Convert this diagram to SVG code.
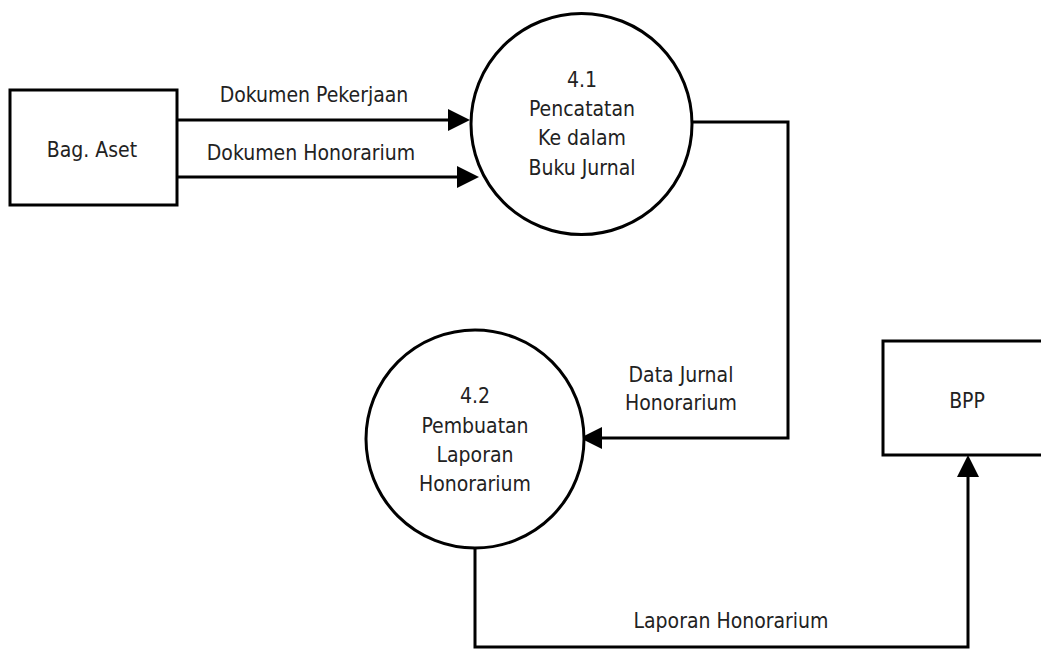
<svg xmlns="http://www.w3.org/2000/svg" width="1041" height="650" viewBox="0 0 1041 650">
  <style>
    .box { fill: #ffffff; stroke: #000000; stroke-width: 3; }
    .proc { fill: #ffffff; stroke: #000000; stroke-width: 3; }
    .flow { fill: none; stroke: #000000; stroke-width: 3; }
    .lbl { font-family: "DejaVu Sans Condensed", "DejaVu Sans", Verdana, sans-serif; font-stretch: condensed; font-size: 21px; fill: #222222; text-anchor: middle; }
  </style>
  <defs>
    <marker id="arrow" viewBox="0 -11 22 22" markerUnits="userSpaceOnUse" markerWidth="22" markerHeight="22" refX="0" refY="0" orient="auto">
      <path d="M0,-11 L22,0 L0,11 z" fill="#000000"/>
    </marker>
  </defs>
  <rect width="1041" height="650" fill="#ffffff"/>

  <!-- data flows -->
  <g id="connectors">
    <path class="flow" d="M177,120 H448" marker-end="url(#arrow)"/>
    <path class="flow" d="M177,177 H457" marker-end="url(#arrow)"/>
    <path class="flow" d="M692,122 H788 V438 H602" marker-end="url(#arrow)"/>
    <path class="flow" d="M475,549 V647 H968 V477" marker-end="url(#arrow)"/>
    <text class="lbl" x="314" y="102">Dokumen Pekerjaan</text>
    <text class="lbl" x="311" y="160">Dokumen Honorarium</text>
    <text class="lbl" x="681" y="382">Data Jurnal</text>
    <text class="lbl" x="681" y="410">Honorarium</text>
    <text class="lbl" x="731" y="628">Laporan Honorarium</text>
  </g>

  <!-- external entity: Bag. Aset -->
  <g id="bag-aset">
    <rect class="box" x="10" y="90" width="167" height="115"/>
    <text class="lbl" x="92" y="157">Bag. Aset</text>
  </g>

  <!-- process 4.1 -->
  <g id="proc-4-1">
    <circle class="proc" cx="581.5" cy="124" r="110.5"/>
    <text class="lbl" x="582" y="87">4.1</text>
    <text class="lbl" x="582" y="116">Pencatatan</text>
    <text class="lbl" x="582" y="145">Ke dalam</text>
    <text class="lbl" x="582" y="175">Buku Jurnal</text>
  </g>

  <!-- process 4.2 -->
  <g id="proc-4-2">
    <circle class="proc" cx="475" cy="439" r="109"/>
    <text class="lbl" x="475" y="403">4.2</text>
    <text class="lbl" x="475" y="433">Pembuatan</text>
    <text class="lbl" x="475" y="462">Laporan</text>
    <text class="lbl" x="475" y="491">Honorarium</text>
  </g>

  <!-- external entity: BPP -->
  <g id="bpp">
    <rect class="box" x="883" y="341" width="200" height="114"/>
    <text class="lbl" x="967" y="408">BPP</text>
  </g>
</svg>
